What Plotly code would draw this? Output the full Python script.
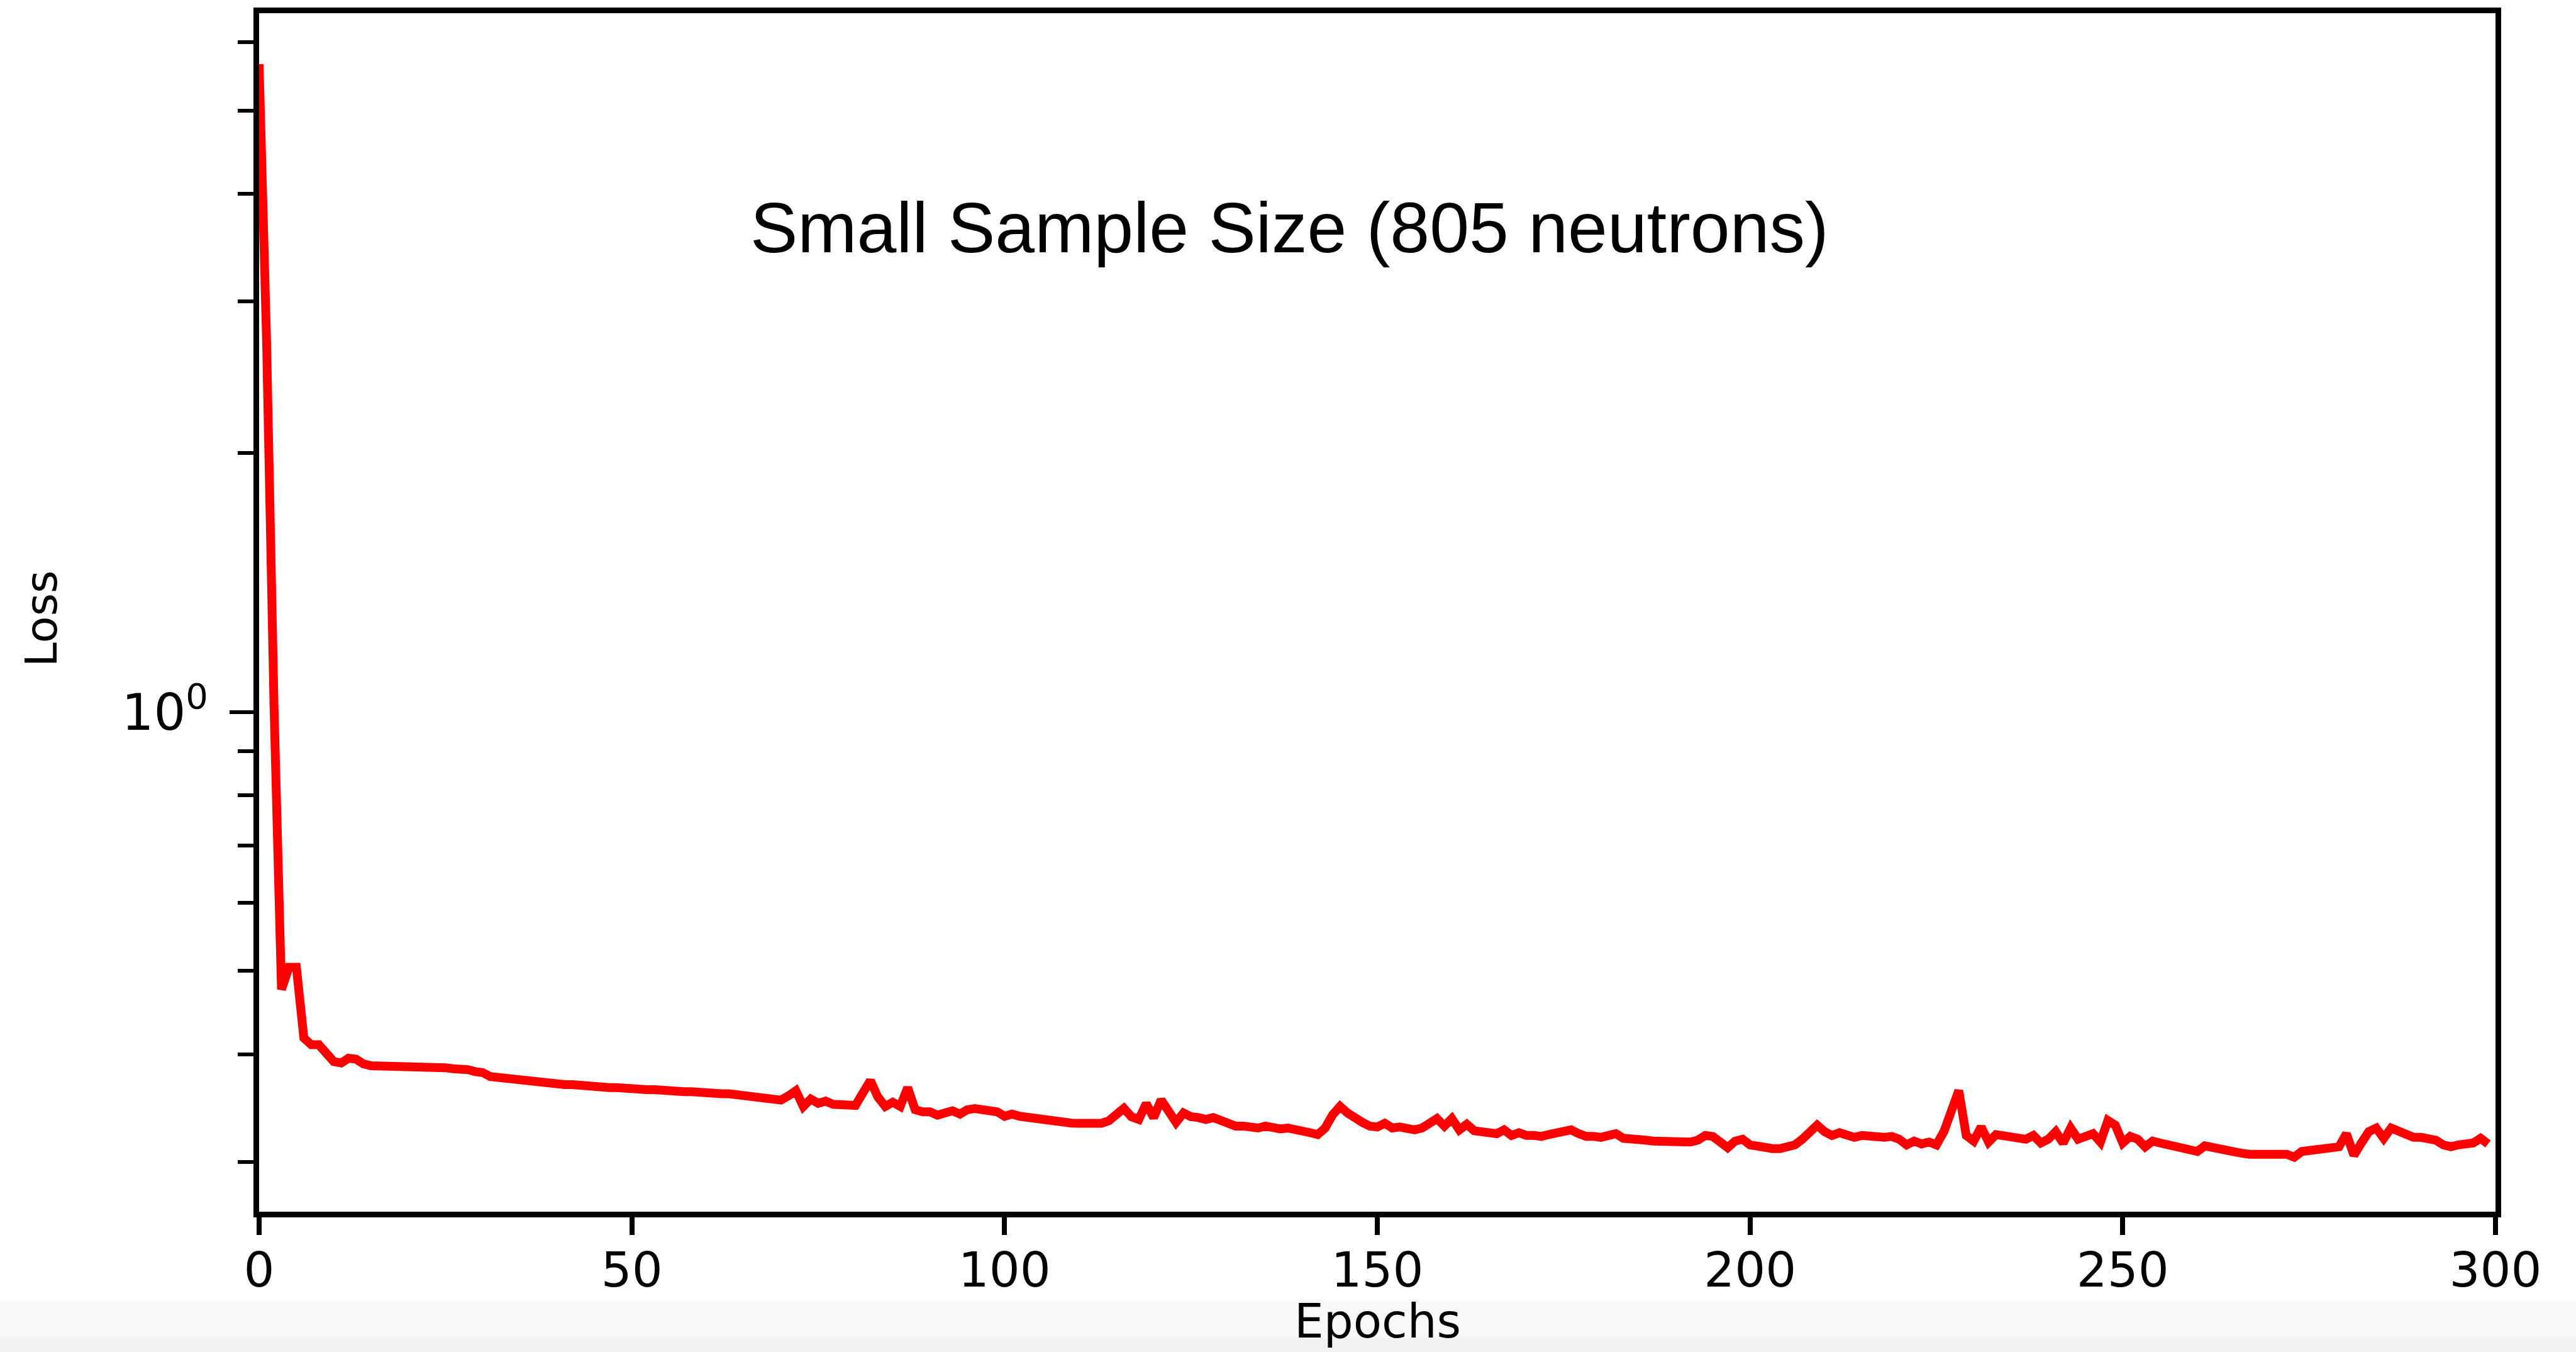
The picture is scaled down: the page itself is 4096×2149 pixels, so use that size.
import plotly.graph_objects as go

# ---------------- data ----------------
loss_000_099 = [
    5.66, 2.70, 1.015, 0.476, 0.505, 0.505, 0.418, 0.4105, 0.4105, 0.401,
    0.3925, 0.391, 0.396, 0.395, 0.390, 0.388, 0.388, 0.388, 0.387, 0.387,
    0.387, 0.387, 0.386, 0.386, 0.386, 0.386, 0.385, 0.385, 0.384, 0.382,
    0.381, 0.377, 0.376, 0.376, 0.375, 0.375, 0.374, 0.373, 0.372, 0.371,
    0.370, 0.369, 0.369, 0.368, 0.368, 0.367, 0.367, 0.366, 0.366, 0.365,
    0.365, 0.365, 0.364, 0.364, 0.363, 0.363, 0.363, 0.362, 0.362, 0.361,
    0.361, 0.361, 0.360, 0.360, 0.359, 0.358, 0.358, 0.357, 0.356, 0.355,
    0.354, 0.358, 0.363, 0.348, 0.355, 0.351, 0.353, 0.350, 0.349, 0.349,
    0.349, 0.361, 0.373, 0.357, 0.348, 0.352, 0.348, 0.366, 0.345, 0.343,
    0.343, 0.340, 0.342, 0.344, 0.341, 0.345, 0.346, 0.345, 0.346, 0.343,
]
loss_100_199 = [
    0.339, 0.341, 0.339, 0.338, 0.337, 0.335, 0.3344, 0.3335, 0.333, 0.3328,
    0.3327, 0.3323, 0.3322, 0.3327, 0.335, 0.340, 0.3463, 0.3386, 0.3361, 0.3507,
    0.3378, 0.3542, 0.3437, 0.3335, 0.342, 0.3386, 0.3378, 0.3361, 0.3378, 0.3352,
    0.3318, 0.3302, 0.3302, 0.3294, 0.3285, 0.3302, 0.3285, 0.3277, 0.3285, 0.3277,
    0.3261, 0.3244, 0.3228, 0.3285, 0.3403, 0.3481, 0.342, 0.3369, 0.3335, 0.3302,
    0.3294, 0.3327, 0.3285, 0.3294, 0.3277, 0.3269, 0.3285, 0.3335, 0.3369, 0.3302,
    0.3369, 0.3269, 0.3318, 0.3261, 0.3253, 0.3261, 0.3236, 0.3269, 0.322, 0.3244,
    0.322, 0.322, 0.3212, 0.3228, 0.3236, 0.3244, 0.3269, 0.3236, 0.3212, 0.3212,
    0.3204, 0.322, 0.3236, 0.3196, 0.3196, 0.3188, 0.318, 0.3172, 0.3172, 0.3164,
    0.3164, 0.3156, 0.3164, 0.318, 0.322, 0.3212, 0.3156, 0.3117, 0.3172, 0.3188,
]
loss_200_299 = [
    0.314, 0.3124, 0.3117, 0.3109, 0.3109, 0.3124, 0.314, 0.3188, 0.3253, 0.331,
    0.3253, 0.322, 0.3244, 0.322, 0.3204, 0.322, 0.3212, 0.3196, 0.3204, 0.3212,
    0.3188, 0.314, 0.3172, 0.3148, 0.3164, 0.314, 0.3253, 0.3437, 0.3632, 0.3220,
    0.3172, 0.3294, 0.3164, 0.3228, 0.3220, 0.3196, 0.3188, 0.3188, 0.3220, 0.3156,
    0.3188, 0.3253, 0.3156, 0.3285, 0.3188, 0.3220, 0.3236, 0.3164, 0.3352, 0.3310,
    0.3156, 0.3212, 0.3188, 0.3124, 0.3172, 0.3156, 0.3140, 0.3124, 0.3117, 0.3109,
    0.3085, 0.3132, 0.3117, 0.3109, 0.3093, 0.3085, 0.3070, 0.3062, 0.3062, 0.3062,
    0.3065, 0.3070, 0.3062, 0.3039, 0.3085, 0.3093, 0.3101, 0.3109, 0.3109, 0.3124,
    0.3236, 0.3054, 0.3156, 0.3253, 0.3285, 0.3196, 0.3285, 0.3253, 0.3228, 0.3204,
    0.3204, 0.3196, 0.3180, 0.3140, 0.3124, 0.3140, 0.3140, 0.3156, 0.3196, 0.3148,
]
loss = loss_000_099 + loss_100_199 + loss_200_299
epochs = list(range(len(loss)))

x_tick_vals = [0, 50, 100, 150, 200, 250, 300]
x_tick_text = ["0", "50", "100", "150", "200", "250", "300"]
y_major_vals = [1]
y_major_text = ["10<sup>0</sup>"]
y_minor_vals = [0.3, 0.4, 0.5, 0.6, 0.7, 0.8, 0.9, 2, 3, 4, 5, 6]

title_text = "Small Sample Size (805 neutrons)"
x_label = "Epochs"
y_label = "Loss"

# ---------------- layout geometry (pixels in the 4096x2149 window) ----------------
W_FIG, H_FIG = 4096, 2149
L, R, T, B = 412, 3968, 15, 1926          # plot area edges
PW, PH = R - L, B - T


def px(xp):
    return (xp - L) / PW


def py(yp):
    return (B - yp) / PH


AX_FONT = "DejaVu Sans, Verdana, sans-serif"
TITLE_FONT = "Liberation Sans, Arial, Helvetica, sans-serif"

fig = go.Figure()
fig.add_trace(go.Scatter(
    x=epochs, y=loss, mode="lines",
    line=dict(color="#ff0000", width=14),
    showlegend=False, hoverinfo="skip",
))

fig.update_layout(
    width=W_FIG, height=H_FIG,
    margin=dict(l=L, r=W_FIG - R, t=T, b=H_FIG - B, pad=0),
    paper_bgcolor="white", plot_bgcolor="white",
    showlegend=False,
    xaxis=dict(
        range=[0, 300], showgrid=False, zeroline=False,
        showline=True, linecolor="black", linewidth=9, mirror=True,
        tickmode="array", tickvals=x_tick_vals, ticktext=x_tick_text,
        ticks="outside", ticklen=28, tickwidth=8, tickcolor="black",
        tickfont=dict(family=AX_FONT, size=77, color="black"),
        ticklabelstandoff=-10,
    ),
    yaxis=dict(
        type="log", range=[-0.5807, 0.812], showgrid=False, zeroline=False,
        showline=True, linecolor="black", linewidth=9, mirror=True,
        tickmode="array", tickvals=y_major_vals, ticktext=y_major_text,
        ticks="outside", ticklen=38, tickwidth=6, tickcolor="black",
        tickfont=dict(family=AX_FONT, size=80, color="black"),
        ticklabelstandoff=18,
        minor=dict(tickmode="array", tickvals=y_minor_vals, ticks="outside",
                   ticklen=25, tickwidth=6, tickcolor="black", showgrid=False),
    ),
    shapes=[
        dict(type="rect", xref="paper", yref="paper", layer="below",
             x0=px(-50), x1=px(W_FIG + 50), y0=py(2067), y1=py(H_FIG + 50),
             fillcolor="#f8f8f8", line=dict(width=0)),
        dict(type="rect", xref="paper", yref="paper", layer="below",
             x0=px(-50), x1=px(W_FIG + 50), y0=py(2128), y1=py(H_FIG + 50),
             fillcolor="#f0f0f0", line=dict(width=0)),
    ],
    annotations=[
        dict(text=title_text, xref="paper", yref="paper", x=px(2050), y=py(357),
             xanchor="center", yanchor="middle", showarrow=False,
             font=dict(family=TITLE_FONT, size=113, color="black")),
        dict(text=x_label, xref="paper", yref="paper", x=px(2190), y=py(2101),
             xanchor="center", yanchor="middle", showarrow=False,
             font=dict(family=AX_FONT, size=74, color="black")),
        dict(text=y_label, xref="paper", yref="paper", x=px(66), y=py(980),
             xanchor="center", yanchor="middle", showarrow=False, textangle=-90,
             font=dict(family=AX_FONT, size=70, color="black")),
    ],
)

fig.write_html("out.html")
